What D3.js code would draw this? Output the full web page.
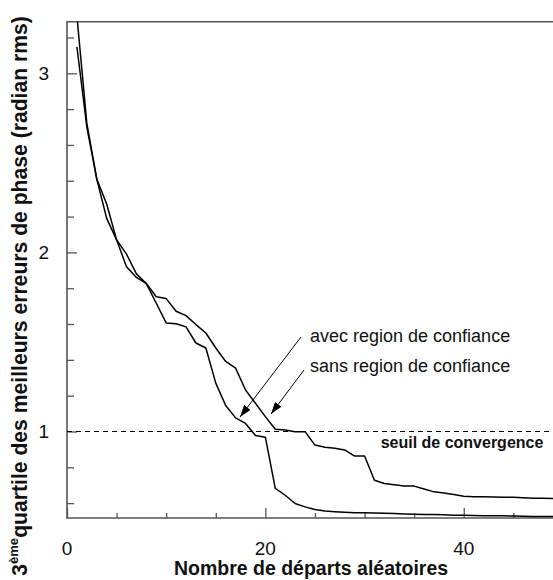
<!DOCTYPE html>
<html>
<head>
<meta charset="utf-8">
<script src="https://cdn.jsdelivr.net/npm/d3@7/dist/d3.min.js"></script>
<style>
  body { margin: 0; background: #fff; }
  svg { display: block; font-family: "Liberation Sans", Arial, Helvetica, sans-serif; }
</style>
</head>
<body>
<svg id="chart" width="553" height="580"></svg>
<script>
// ---- data ----
const departs = [1,2,3,4,5,6,7,8,9,10,11,12,13,14,15,16,17,18,19,20,21,22,23,24,25,26,27,28,29,30,31,32,33,34,35,36,37,38,39,40,41,42,43,44,45,46,47,48,49];
const avecRegion = [3.147,2.70,2.41,2.19,2.07,1.92,1.86,1.826,1.716,1.606,1.602,1.584,1.494,1.466,1.27,1.145,1.076,1.045,0.978,0.968,0.682,0.644,0.598,0.579,0.564,0.556,0.552,0.549,0.547,0.546,0.545,0.543,0.542,0.540,0.538,0.537,0.536,0.535,0.533,0.532,0.531,0.530,0.530,0.529,0.528,0.527,0.526,0.526,0.525];
const sansRegion = [3.32,2.72,2.41,2.27,2.07,1.99,1.88,1.826,1.752,1.742,1.671,1.647,1.597,1.55,1.466,1.391,1.354,1.232,1.158,1.083,1.013,1.008,0.999,0.999,0.924,0.912,0.906,0.897,0.863,0.863,0.728,0.71,0.703,0.696,0.695,0.679,0.663,0.657,0.648,0.639,0.636,0.635,0.634,0.633,0.633,0.630,0.627,0.627,0.626];
const xTickLabels = [0, 20, 40];
const xMinorTicks = [5, 10, 15, 25, 30, 35, 45];
const yTickLabels = [1, 2, 3];
const yMinorTicks = [0.6, 0.8, 1.2, 1.4, 1.6, 1.8, 2.2, 2.4, 2.6, 2.8, 3.2];
const seuil = 1;

const svg = d3.select("#chart");
const L = 67, R = 553, T = 21.7, B = 518;
const x = d3.scaleLinear().domain([0, 49]).range([L, R]);
const y = d3.scaleLinear().domain([0.517, 3.288]).range([B, T]);

const axisColor = "#555";

// clip
svg.append("defs").append("clipPath").attr("id", "plotclip")
  .append("rect").attr("x", L).attr("y", T).attr("width", R - L).attr("height", B - T);

// arrow marker
svg.select("defs").append("marker")
  .attr("id", "arrow").attr("viewBox", "0 0 12 8").attr("refX", 12).attr("refY", 4)
  .attr("markerWidth", 12).attr("markerHeight", 8).attr("markerUnits", "userSpaceOnUse")
  .attr("orient", "auto")
  .append("path").attr("d", "M0,0 L12,4 L0,8 Z").attr("fill", "#000");

// axes (ticks inward)
const xMajor = d3.axisTop(x).tickValues(xTickLabels).tickSize(10).tickFormat("");
const xMinor = d3.axisTop(x).tickValues(xMinorTicks).tickSize(5).tickFormat("");
const yMajor = d3.axisRight(y).tickValues(yTickLabels).tickSize(10).tickFormat("");
const yMinor = d3.axisRight(y).tickValues(yMinorTicks).tickSize(7).tickFormat("");

function styleAxis(g) {
  g.select(".domain").remove();
  g.selectAll(".tick line").attr("stroke", axisColor).attr("stroke-width", 1.3);
}
svg.append("g").attr("transform", `translate(0,${B})`).call(xMajor).call(styleAxis);
svg.append("g").attr("transform", `translate(0,${B})`).call(xMinor).call(styleAxis);
svg.append("g").attr("transform", `translate(${L},0)`).call(yMajor).call(styleAxis);
svg.append("g").attr("transform", `translate(${L},0)`).call(yMinor).call(styleAxis);

// frame lines
svg.append("path")
  .attr("d", `M${R},${T} L${L},${T} L${L},${B} L${R},${B}`)
  .attr("fill", "none").attr("stroke", axisColor).attr("stroke-width", 1.6);

// tick labels
svg.append("g").selectAll("text").data(xTickLabels).join("text")
  .attr("x", d => x(d)).attr("y", 555).attr("text-anchor", "middle")
  .attr("font-size", 19).attr("fill", "#111").text(d => d);
svg.append("g").selectAll("text").data(yTickLabels).join("text")
  .attr("x", 49).attr("y", d => y(d) + 7).attr("text-anchor", "end")
  .attr("font-size", 19).attr("fill", "#111").text(d => d);

// threshold dashed line
svg.append("line")
  .attr("x1", L).attr("x2", R).attr("y1", y(seuil)).attr("y2", y(seuil))
  .attr("stroke", "#000").attr("stroke-width", 1.2).attr("stroke-dasharray", "5,4");

// curves
const line = d3.line().x((d, i) => x(departs[i])).y(d => y(d));
const plot = svg.append("g").attr("clip-path", "url(#plotclip)");
[avecRegion, sansRegion].forEach(series => {
  plot.append("path").attr("d", line(series))
    .attr("fill", "none").attr("stroke", "#000").attr("stroke-width", 1.5)
    .attr("stroke-linejoin", "round");
});

// annotations
svg.append("text").attr("x", 310).attr("y", 342).attr("font-size", 18).attr("fill", "#111")
  .text("avec region de confiance");
svg.append("text").attr("x", 310).attr("y", 372).attr("font-size", 18).attr("fill", "#111")
  .text("sans region de confiance");
svg.append("line").attr("x1", 301).attr("y1", 337).attr("x2", 240).attr("y2", 417)
  .attr("stroke", "#000").attr("stroke-width", 1).attr("marker-end", "url(#arrow)");
svg.append("line").attr("x1", 304).attr("y1", 370).attr("x2", 271).attr("y2", 414)
  .attr("stroke", "#000").attr("stroke-width", 1).attr("marker-end", "url(#arrow)");

svg.append("text").attr("x", 462).attr("y", 448).attr("text-anchor", "middle")
  .attr("font-size", 16).attr("font-weight", "bold").attr("fill", "#111")
  .text("seuil de convergence");

// axis titles
svg.append("text").attr("x", 311).attr("y", 575).attr("text-anchor", "middle")
  .attr("font-size", 19.5).attr("font-weight", "bold").attr("fill", "#111")
  .text("Nombre de départs aléatoires");

const yt = svg.append("text")
  .attr("transform", "translate(27,296) rotate(-90)")
  .attr("text-anchor", "middle")
  .attr("font-weight", "bold").attr("fill", "#111");
const s1 = yt.append("tspan").text("3");
const s2 = yt.append("tspan").attr("dy", -8).text("ème");
const s3 = yt.append("tspan").attr("dy", 8).text("quartile des meilleurs erreurs de phase (radian rms)");
function setYSize(fs) {
  yt.attr("font-size", fs);
  s2.attr("font-size", fs * 0.62).attr("dy", -fs * 0.42);
  s3.attr("dy", fs * 0.42);
}
setYSize(19);
const len = yt.node().getComputedTextLength();
setYSize(19 * 560 / len);
</script>
</body>
</html>
